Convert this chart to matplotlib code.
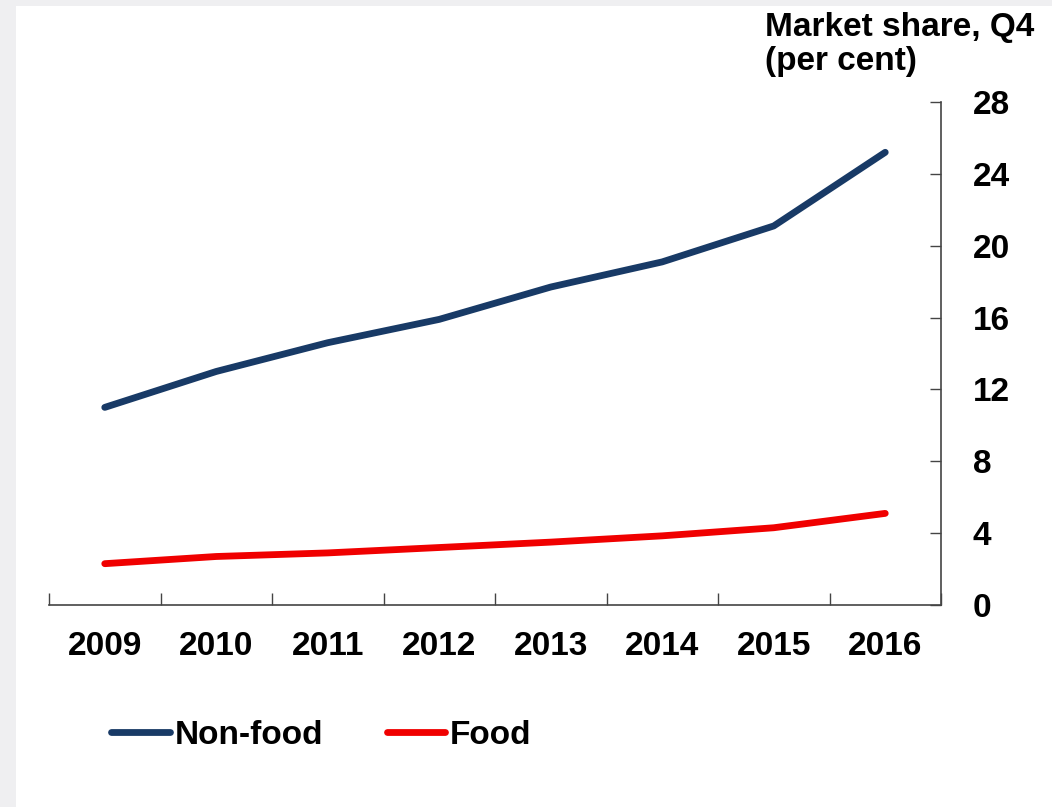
import numpy as np
import matplotlib.pyplot as plt
from matplotlib.patches import Rectangle

plt.rcParams['font.family'] = ['Liberation Sans', 'DejaVu Sans']
plt.rcParams['font.weight'] = 'bold'

# Data
years = ['2009', '2010', '2011', '2012', '2013', '2014', '2015', '2016']
non_food = [11.0, 13.0, 14.6, 15.9, 17.7, 19.1, 21.1, 25.2]
food = [2.3, 2.7, 2.9, 3.2, 3.5, 3.85, 4.3, 5.1]
y_ticks = [0, 4, 8, 12, 16, 20, 24, 28]

fig = plt.figure(figsize=(10.52, 8.07), dpi=100)
fig.patch.set_facecolor('#efeff1')
fig.patches.append(Rectangle((16 / 1052, 0), 1, 1 - 6 / 807, transform=fig.transFigure,
                             facecolor='white', edgecolor='none', zorder=-10))

ax = fig.add_axes([49 / 1052, 202 / 807, 892 / 1052, 503 / 807])
ax.set_facecolor('none')

x = np.arange(len(years))
navy = '#183a66'
red = '#f00000'
ax.plot(x, non_food, color=navy, lw=4.9, solid_capstyle='round', label='Non-food')
ax.plot(x, food, color=red, lw=4.9, solid_capstyle='round', label='Food')

ax.set_xlim(-0.5, len(years) - 0.5)
ax.set_ylim(0, 28)

for s in ['left', 'top']:
    ax.spines[s].set_visible(False)
for s in ['bottom', 'right']:
    ax.spines[s].set_color('#444444')
    ax.spines[s].set_linewidth(1.2)

fs = 24
ax.set_xticks(x)
ax.set_xticklabels(years, fontsize=fs, fontweight='bold')
ax.tick_params(axis='x', which='major', length=0, pad=19)
ax.set_xticks(np.arange(-0.5, len(years)), minor=True)
ax.tick_params(axis='x', which='minor', direction='in', length=9, width=1, color='#444444')

ax.yaxis.tick_right()
ax.set_yticks(y_ticks)
ax.set_yticklabels([str(v) for v in y_ticks], fontsize=fs, fontweight='bold')
ax.tick_params(axis='y', direction='in', length=8, width=1, color='#444444', pad=23)

fig.text(765 / 1052, 1 - 12 / 807, 'Market share, Q4\n(per cent)', fontsize=fs,
         fontweight='bold', va='top', ha='left', linespacing=1.12)

ax.legend(loc='center left', bbox_to_anchor=(0.055, -0.259), ncol=2, frameon=False,
          fontsize=fs, handlelength=1.75, handletextpad=0.15, columnspacing=1.9,
          borderaxespad=0)

fig.savefig('out.png', dpi=100, facecolor=fig.get_facecolor())
